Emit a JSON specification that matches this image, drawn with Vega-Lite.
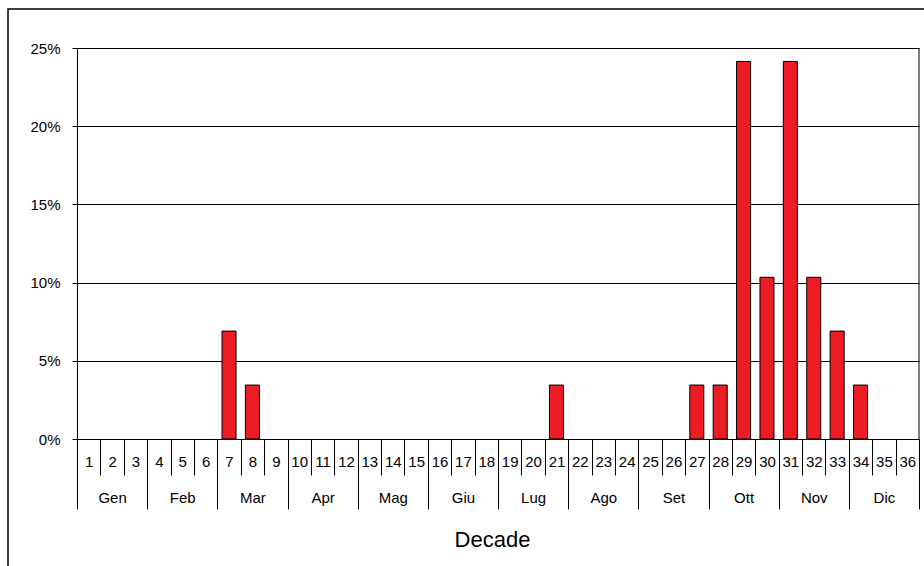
{
  "$schema": "https://vega.github.io/schema/vega-lite/v6.json",
  "width": 920,
  "height": 560,
  "autosize": {"type": "none"},
  "padding": {"left": 8, "top": 9, "right": 0, "bottom": 0},
  "background": "white",
  "config": {
    "view": {"stroke": "black", "strokeWidth": 1.5},
    "font": "Liberation Sans",
    "axis": {
      "labelFont": "Liberation Sans",
      "titleFont": "Liberation Sans",
      "labelColor": "black",
      "titleColor": "black",
      "domainColor": "black",
      "tickColor": "black",
      "gridColor": "black",
      "labelFontSize": 15
    }
  },
  "layer": [
    {
      "data": {
        "values": [
          {"decade": 1, "pct": 0}, {"decade": 2, "pct": 0}, {"decade": 3, "pct": 0},
          {"decade": 4, "pct": 0}, {"decade": 5, "pct": 0}, {"decade": 6, "pct": 0},
          {"decade": 7, "pct": 0.069}, {"decade": 8, "pct": 0.0345}, {"decade": 9, "pct": 0},
          {"decade": 10, "pct": 0}, {"decade": 11, "pct": 0}, {"decade": 12, "pct": 0},
          {"decade": 13, "pct": 0}, {"decade": 14, "pct": 0}, {"decade": 15, "pct": 0},
          {"decade": 16, "pct": 0}, {"decade": 17, "pct": 0}, {"decade": 18, "pct": 0},
          {"decade": 19, "pct": 0}, {"decade": 20, "pct": 0}, {"decade": 21, "pct": 0.0345},
          {"decade": 22, "pct": 0}, {"decade": 23, "pct": 0}, {"decade": 24, "pct": 0},
          {"decade": 25, "pct": 0}, {"decade": 26, "pct": 0}, {"decade": 27, "pct": 0.0345},
          {"decade": 28, "pct": 0.0345}, {"decade": 29, "pct": 0.2414}, {"decade": 30, "pct": 0.1034},
          {"decade": 31, "pct": 0.2414}, {"decade": 32, "pct": 0.1034}, {"decade": 33, "pct": 0.069},
          {"decade": 34, "pct": 0.0345}, {"decade": 35, "pct": 0}, {"decade": 36, "pct": 0}
        ]
      },
      "mark": {"type": "bar", "width": {"band": 0.6}, "fill": "#ED1C24", "stroke": "black", "strokeWidth": 1},
      "encoding": {
        "x": {
          "field": "decade",
          "type": "ordinal",
          "sort": null,
          "scale": {"range": [69, 911], "paddingInner": 0, "paddingOuter": 0},
          "axis": {
            "orient": "bottom",
            "offset": -130,
            "tickBand": "extent",
            "tickSize": 36,
            "labelAngle": 0,
            "labelBaseline": "middle",
            "labelPadding": -13.5,
            "labelOverlap": false,
            "labelFlush": false,
            "labelBound": false,
            "domain": true,
            "grid": false,
            "title": null
          }
        },
        "y": {
          "field": "pct",
          "type": "quantitative",
          "scale": {"domain": [0, 0.25], "range": [430, 39], "nice": false, "zero": true},
          "axis": {
            "orient": "left",
            "offset": -69,
            "values": [0, 0.05, 0.1, 0.15, 0.2, 0.25],
            "format": ".0%",
            "grid": true,
            "gridOpacity": 1,
            "gridWidth": 1,
            "tickSize": 5,
            "labelPadding": 12,
            "title": null
          }
        },
        "strokeOpacity": {"condition": {"test": "datum.pct > 0", "value": 1}, "value": 0}
      }
    },
    {
      "data": {
        "values": [
          {"month": "Gen"}, {"month": "Feb"}, {"month": "Mar"}, {"month": "Apr"},
          {"month": "Mag"}, {"month": "Giu"}, {"month": "Lug"}, {"month": "Ago"},
          {"month": "Set"}, {"month": "Ott"}, {"month": "Nov"}, {"month": "Dic"}
        ]
      },
      "mark": {"type": "rule", "stroke": "black", "strokeWidth": 1},
      "encoding": {
        "x": {
          "field": "month",
          "type": "ordinal",
          "sort": null,
          "bandPosition": 1,
          "scale": {"range": [69, 911], "paddingInner": 0, "paddingOuter": 0},
          "axis": {
            "orient": "bottom",
            "offset": -130,
            "tickBand": "extent",
            "tickSize": 70,
            "labelAngle": 0,
            "labelBaseline": "middle",
            "labelPadding": -12,
            "labelOverlap": false,
            "labelFlush": false,
            "labelBound": false,
            "domain": false,
            "grid": false,
            "title": "Decade",
            "titleFontSize": 22,
            "titleFontWeight": "normal",
            "titlePadding": 20,
            "titleX": 484
          }
        },
        "y": {
          "datum": 0,
          "type": "quantitative",
          "scale": {"domain": [0, 0.25], "range": [430, 39], "nice": false, "zero": true},
          "axis": {
            "orient": "left",
            "offset": -69,
            "values": [0, 0.05, 0.1, 0.15, 0.2, 0.25],
            "format": ".0%",
            "grid": true,
            "gridOpacity": 1,
            "gridWidth": 1,
            "tickSize": 5,
            "labelPadding": 12,
            "title": null
          }
        },
        "y2": {"datum": 0.25},
        "strokeOpacity": {"condition": {"test": "datum.month === 'Dic'", "value": 1}, "value": 0}
      }
    }
  ],
  "resolve": {"scale": {"x": "independent"}, "axis": {"x": "independent"}}
}
